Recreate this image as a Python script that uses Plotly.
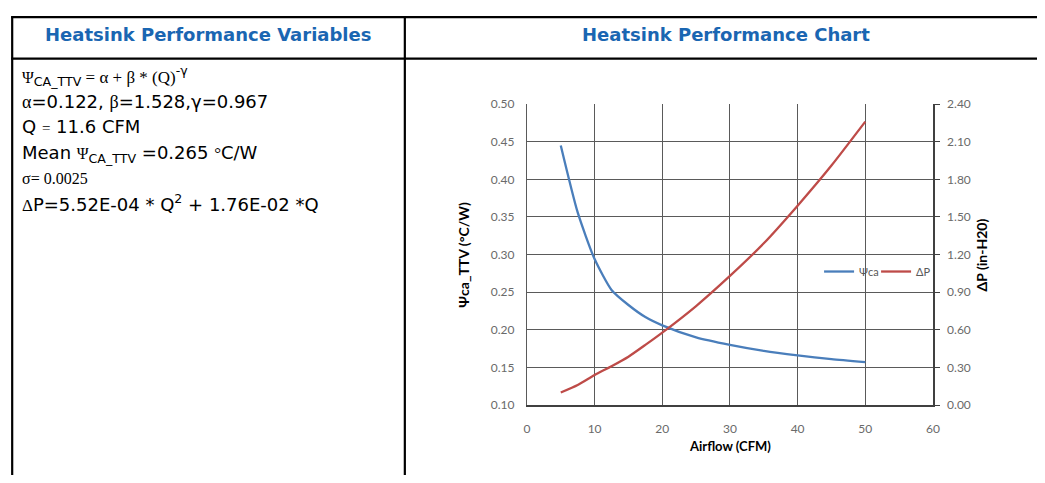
import plotly.graph_objects as go

# ---------------- data ----------------
airflow = [5, 7.5, 10, 12.5, 15, 17.5, 20, 25, 30, 35, 40, 45, 50]
psi_ca = [0.445, 0.356, 0.294, 0.253, 0.233, 0.217, 0.206, 0.190, 0.180, 0.172, 0.166, 0.161, 0.157]
delta_p = [0.10, 0.16, 0.24, 0.31, 0.386, 0.48, 0.578, 0.79, 1.03, 1.29, 1.59, 1.91, 2.26]

series_names = ["\u03a8ca", "\u0394P"]
x_ticks = [0, 10, 20, 30, 40, 50, 60]
y_left_ticks = [0.10, 0.15, 0.20, 0.25, 0.30, 0.35, 0.40, 0.45, 0.50]
y_right_ticks = [0.00, 0.30, 0.60, 0.90, 1.20, 1.50, 1.80, 2.10, 2.40]

header_left = "Heatsink Performance Variables"
header_right = "Heatsink Performance Chart"
x_title = "Airflow (CFM)"
y_left_title = "\u03a8ca_TTV (\u00b0C/W)"
y_right_title = "\u0394P (in-H20)"

# ---------------- layout helpers ----------------
# The page keeps the browser's 8px body margin, so the figure is sized to fit the
# 1045x483 window exactly and all positions are given in window pixels.
OFF = 8
W, H = 1045 - 2 * OFF, 483 - 2 * OFF
def px(x):
    return (x - OFF) / W
def py(y):
    return 1 - (y - OFF) / H

PLOT_L, PLOT_R, PLOT_T, PLOT_B = 529, 939, 99, 410
BLUE = "#4a7ebb"
RED = "#be4b48"
GRID = "#5a5a5a"
TICKC = "#6a6a6a"
HEAD_BLUE = "#1a66b2"
SANS = "DejaVu Sans"

def serif(s, size=17):
    return f"<span style='font-family:Liberation Serif;font-size:{size}px'>{s}</span>"

fig = go.Figure()
fig.add_trace(go.Scatter(x=airflow, y=psi_ca, name=series_names[0], mode="lines",
                         line=dict(color=BLUE, width=2.3, shape="spline", smoothing=0.6),
                         yaxis="y"))
fig.add_trace(go.Scatter(x=airflow, y=delta_p, name=series_names[1], mode="lines",
                         line=dict(color=RED, width=2.3, shape="spline", smoothing=0.6),
                         yaxis="y2"))

tickfont = dict(family="Lato", size=12, color=TICKC)

fig.update_layout(
    width=W, height=H,
    margin=dict(l=0, r=0, t=0, b=0),
    paper_bgcolor="white", plot_bgcolor="white",
    showlegend=True,
    legend=dict(orientation="h", x=px(824), y=py(272), xanchor="left", yanchor="middle",
                bgcolor="rgba(0,0,0,0)", font=dict(family="Lato", size=11, color="#595959"),
                itemwidth=30, tracegroupgap=0, traceorder="normal",
                entrywidth=12, entrywidthmode="pixels"),
    xaxis=dict(domain=[px(PLOT_L), px(PLOT_R)], range=[0, 60], tickvals=x_ticks,
               ticktext=[str(v) for v in x_ticks], showgrid=True, gridcolor=GRID, gridwidth=1,
               zeroline=False, showline=True, linecolor="#404040", linewidth=1.5,
               tickfont=tickfont, ticks="", ticklabelstandoff=12, fixedrange=True),
    yaxis=dict(domain=[py(PLOT_B), py(PLOT_T)], range=[0.10, 0.50], tickvals=y_left_ticks,
               ticktext=[f"{v:.2f}" for v in y_left_ticks], showgrid=True, gridcolor=GRID,
               gridwidth=1, zeroline=False, showline=True, linecolor=GRID, linewidth=1,
               tickfont=tickfont, ticks="", ticklabelstandoff=9, fixedrange=True),
    yaxis2=dict(overlaying="y", side="right", anchor="x", range=[0, 2.4], tickvals=y_right_ticks,
                ticktext=[f"{v:.2f}" for v in y_right_ticks], showgrid=False, zeroline=False,
                showline=True, linecolor="#404040", linewidth=1.5, ticks="outside", ticklen=5,
                tickcolor="#404040", tickwidth=1, tickfont=tickfont, ticklabelstandoff=5,
                fixedrange=True),
)

shapes = []
# white box behind legend (hides gridlines)
shapes.append(dict(type="rect", xref="paper", yref="paper", x0=px(827), x1=px(928),
                   y0=py(303), y1=py(238), fillcolor="white", line=dict(width=0), layer="between"))
# table borders
line_k = dict(color="black", width=2.2)
TOP_Y = 9.2
LEFT_X = 9.2
shapes.append(dict(type="line", xref="paper", yref="paper", x0=px(LEFT_X - 1), x1=px(1045), y0=py(TOP_Y), y1=py(TOP_Y), line=line_k))
shapes.append(dict(type="line", xref="paper", yref="paper", x0=px(LEFT_X - 1), x1=px(1045), y0=py(52), y1=py(52), line=line_k))
shapes.append(dict(type="line", xref="paper", yref="paper", x0=px(LEFT_X), x1=px(LEFT_X), y0=py(TOP_Y - 1), y1=py(483), line=line_k))
shapes.append(dict(type="line", xref="paper", yref="paper", x0=px(405.7), x1=px(405.7), y0=py(TOP_Y - 1), y1=py(483), line=line_k))
fig.update_layout(shapes=shapes)

ann = []
def add_text(text, x, y, size=18, family=SANS, color="black", xanchor="left", angle=0, bold=False):
    ann.append(dict(text=f"<b>{text}</b>" if bold else text, x=px(x), y=py(y), xref="paper", yref="paper",
                    xanchor=xanchor, yanchor="middle", showarrow=False, textangle=angle,
                    font=dict(family=family, size=size, color=color)))

# headers
add_text(header_left, 207, 27, size=18, color=HEAD_BLUE, xanchor="center", bold=True)
add_text(header_right, 730, 27, size=18, color=HEAD_BLUE, xanchor="center", bold=True)

# left cell formulas
line1 = serif("\u03a8", 16) + "<sub>CA_TTV</sub>" + serif(" = \u03b1 + \u03b2 * (Q)", 17) + "<sup>-\u03b3</sup>"
line2 = serif("\u03b1", 18) + "=0.122, " + serif("\u03b2", 18) + "=1.528," + "\u03b3=0.967"
line3 = "Q " + serif("=", 15) + " 11.6 CFM"
line4 = "Mean " + serif("\u03a8", 16) + "<sub>CA_TTV</sub> =0.265 " + serif("\u00b0", 17) + "C/W"
line5 = serif("\u03c3= 0.0025", 16)
line6 = serif("\u0394", 17) + "P=5.52E-04 * Q<sup>2</sup> + 1.76E-02 *Q"
for t, yy in [(line1, 70), (line2, 96), (line3, 122), (line4, 151), (line5, 176), (line6, 201)]:
    add_text(t, 17, yy)

# axis titles
add_text(x_title, (PLOT_L + PLOT_R) / 2, 452, size=13, family="Lato", xanchor="center", bold=True)
add_text(y_left_title, 465, 255, size=14, family="Lato", xanchor="center", angle=-90, bold=True)
add_text(y_right_title, 988, 255, size=14, family="Lato", xanchor="center", angle=-90, bold=True)

fig.update_layout(annotations=ann)

fig.write_html("out.html", config={"displayModeBar": False})
